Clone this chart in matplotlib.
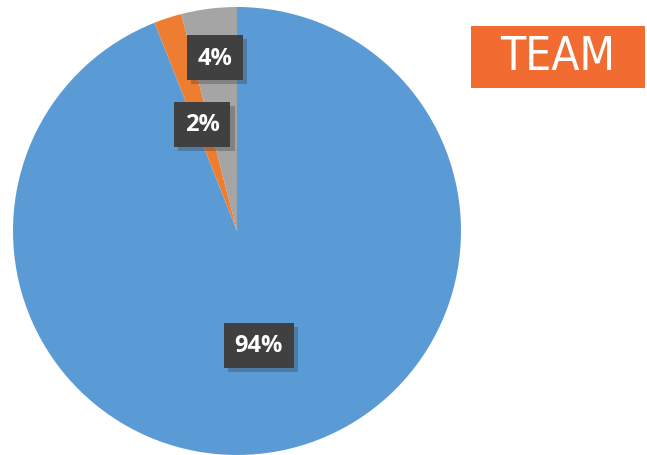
import numpy as np
import matplotlib
matplotlib.use("Agg")
import matplotlib.pyplot as plt
import matplotlib.patheffects as pe
from matplotlib.patches import Rectangle

labels = ["94%", "2%", "4%"]
values = [94, 2, 4]
colors = ["#5B9BD5", "#ED7D31", "#A5A5A5"]
label_dist = [0.52, 0.50, 0.78]
title = "TEAM"

W, H = 647, 456
fig = plt.figure(figsize=(W / 100, H / 100), dpi=100)
fig.patch.set_facecolor("white")

# pie axes: centre at (237, 232) px, radius 224 px
ax = fig.add_axes([13 / W, 0, 448 / W, 448 / H])
wedges, _ = ax.pie(values, colors=colors, startangle=90, counterclock=False,
                   radius=1.0, wedgeprops=dict(linewidth=0))
ax.set_xlim(-1, 1)
ax.set_ylim(-1, 1)
ax.set_aspect("equal")
ax.axis("off")

for w, lab, d in zip(wedges, labels, label_dist):
    ang = np.deg2rad((w.theta1 + w.theta2) / 2)
    t = ax.text(d * np.cos(ang), d * np.sin(ang), lab, ha="center", va="center",
                color="white", fontsize=17, fontweight="bold", family="Open Sans",
                bbox=dict(boxstyle="square,pad=0.45", fc="#404040", ec="none"))
    t.get_bbox_patch().set_path_effects([
        pe.SimplePatchShadow(offset=(3, -3), shadow_rgbFace="#333333", alpha=0.3),
        pe.Normal()])

# TEAM tag
fig.patches.append(Rectangle((471 / W, 1 - 89 / H), 174 / W, 62 / H,
                             transform=fig.transFigure, fc="#F26B30", ec="none"))
fig.text(558 / W, 1 - 58 / H, title, ha="center", va="center", color="white",
         fontsize=33, family="DejaVu Sans", fontstretch="condensed", fontweight="light")

fig.savefig("out.png", dpi=100)
